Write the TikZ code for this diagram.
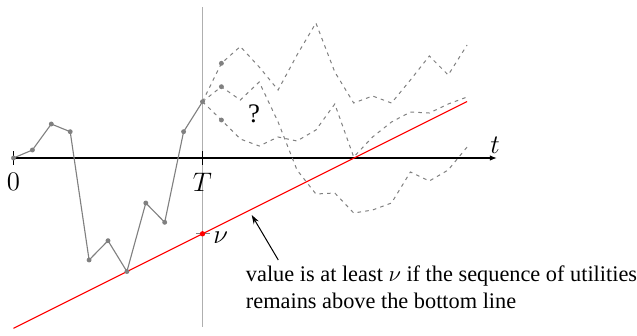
\documentclass[tikz,border=0pt]{standalone}
\usepackage[no-math]{fontspec}
\setmainfont{Liberation Serif}
\usetikzlibrary{arrows.meta}
\definecolor{walkgray}{RGB}{128,128,128}
\definecolor{vlinegray}{RGB}{175,175,175}
\begin{document}
\begin{tikzpicture}[x=0.448pt,y=-0.448pt,
  walk/.style={draw=walkgray, line width=0.5pt},
  future/.style={draw=walkgray, line width=0.45pt, dash pattern=on 1.6pt off 1.9pt},
  wdot/.style={fill=walkgray, circle, inner sep=0pt, minimum size=2.2pt},
  tickline/.style={draw=black, line width=0.5pt},
  biglabel/.style={font=\large, inner sep=0pt},
  bottomline/.style={draw=red, line width=0.5pt}]
\useasboundingbox (0,0) rectangle (637,335);
% vertical line at T
\draw[draw=vlinegray, line width=0.45pt] (202.5,7) -- (202.5,327);
% time axis
\coordinate (o) at (13.5,158);
\coordinate (tend) at (497,158);
\draw[line width=0.5pt, -{Latex[length=3.2pt,width=2.4pt]}] (o) -- (tend);
\node[biglabel, anchor=base] (tl) at (495,153) {$t$};
% ticks
\draw[tickline] (13.5,151.3) -- (13.5,164.7);
\draw[tickline] (202.5,151.3) -- (202.5,164.7);
\node[biglabel, anchor=north] (zero) at (13.5,172.5) {$0$};
\node[biglabel, anchor=north] (T) at (202.5,172.5) {$T$};
% red bottom line
\draw[bottomline] (13.5,328.3) -- (467.1,101.5);
\draw[draw=walkgray, line width=0.5pt] (196,233.8) -- (209.5,233.8);
\fill[red] (202.5,233.8) circle (1.2pt);
\node[biglabel, anchor=base west] (nu) at (213,243) {$\nu$};
% past walk
\draw[walk] plot coordinates {(13.5,158) (32.4,150) (51.3,124) (70.2,131.7) (89.1,260) (108,240.7) (126.9,271.5) (145.8,203) (164.7,222.3) (183.6,131.7) (202.5,101.7)};
\foreach \p in {(13.5,158),(32.4,150),(51.3,124),(70.2,131.7),(89.1,260),(108,240.7),(126.9,271.5),(145.8,203),(164.7,222.3),(183.6,131.7),(202.5,101.7)}
  \node[wdot] at \p {};
% future walks
\draw[future] plot coordinates {(202.5,101.7) (221.4,63.3) (240.3,46.5) (259.2,67) (278.1,90) (297,55) (315.9,23) (334.8,72) (353.7,103) (372.6,96) (391.5,103) (410.4,80) (429.3,56) (448.2,75) (467.1,45)};
\draw[future] plot coordinates {(202.5,101.7) (221.4,86.7) (240.3,100) (259.2,82) (278.1,122) (297,170) (315.9,194) (334.8,193) (353.7,213) (372.6,210) (391.5,203) (410.4,172) (429.3,181) (448.2,170) (467.1,147)};
\draw[future] plot coordinates {(202.5,101.7) (221.4,120) (240.3,139) (259.2,146) (278.1,137) (297,141) (315.9,130) (334.8,104) (353.7,157) (372.6,137) (391.5,122) (410.4,112) (429.3,113) (448.2,104) (467.1,97)};
\node[wdot] at (221.4,63.3) {};
\node[wdot] at (221.4,86.7) {};
\node[wdot] at (221.4,120) {};
\node[biglabel, anchor=base] (q) at (254,122.5) {?};
% annotation
\node[anchor=base west, align=left, inner sep=0pt, font=\normalsize] (note) at (245.5,308.3)
  {value is at least $\nu$ if the sequence of utilities\\remains above the bottom line};
\coordinate (astart) at (278.3,260);
\coordinate (aend) at (251.7,215);
\draw[line width=0.45pt, -{Stealth[length=4pt,width=2.6pt]}] (astart) -- (aend);
\end{tikzpicture}
\end{document}
